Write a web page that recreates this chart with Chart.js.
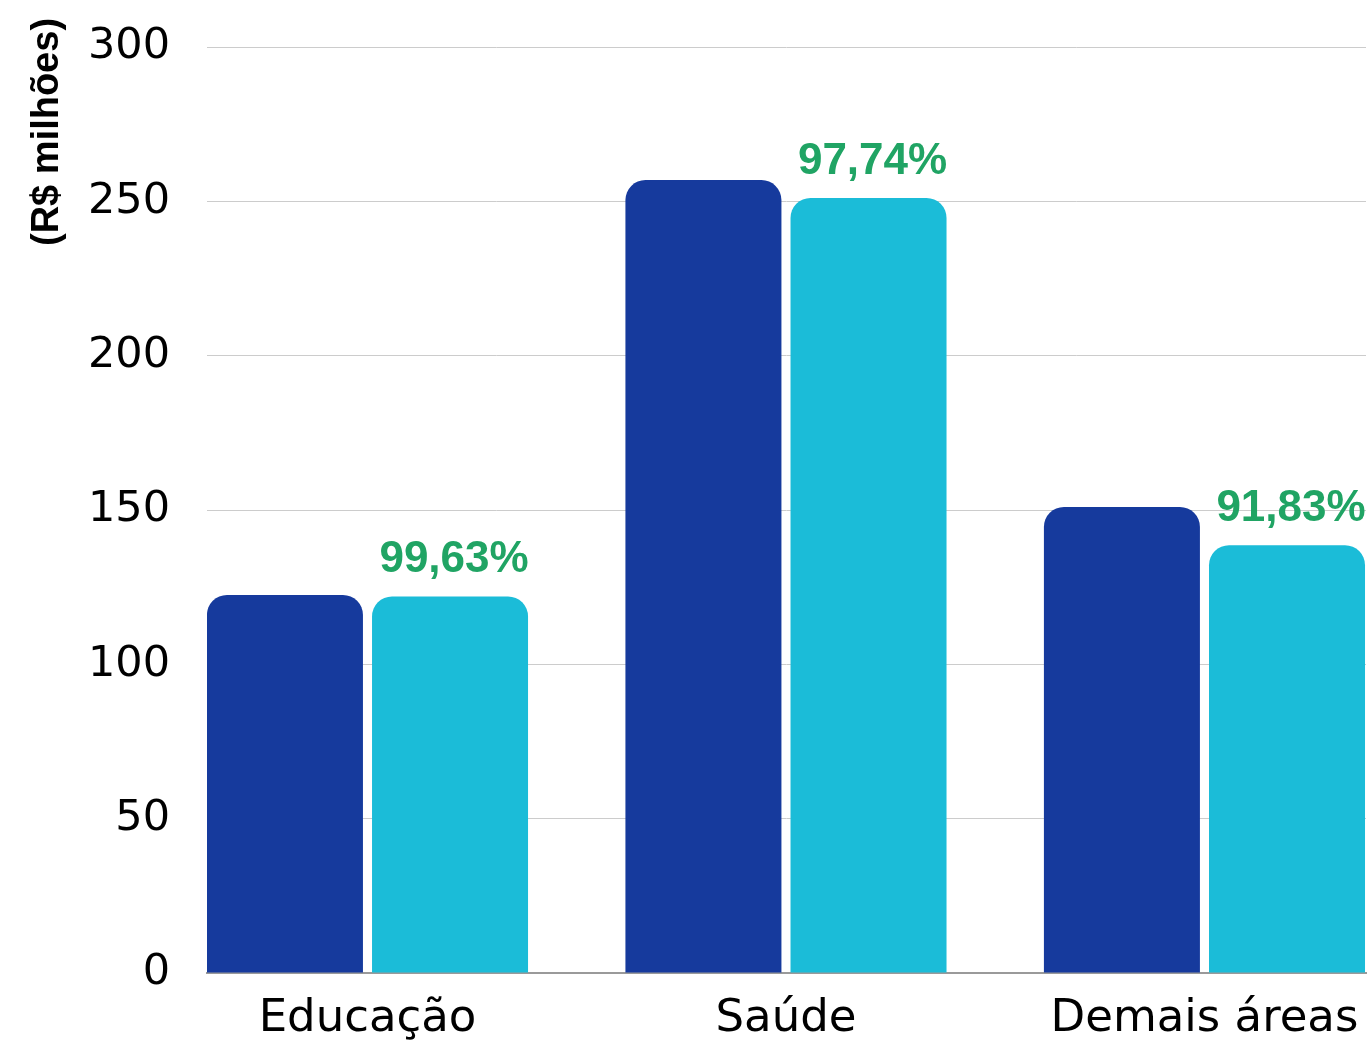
<!DOCTYPE html>
<html lang="pt-BR">
<head>
<meta charset="utf-8">
<title>Execução por área</title>
<script src="https://cdn.jsdelivr.net/npm/chart.js@4"></script>
<style>
  html, body { margin: 0; padding: 0; background: #ffffff; overflow: hidden; }
  #wrap { position: relative; width: 1368px; height: 1040px; }
  #y-title {
    position: absolute;
    left: 25px;
    top: 18px;
    writing-mode: vertical-rl;
    transform: rotate(180deg);
    font: bold 38px "Liberation Sans", Arial, sans-serif;
    line-height: 40px;
    color: #000;
    white-space: nowrap;
  }
</style>
</head>
<body>
<div id="wrap">
  <canvas id="chart"></canvas>
  <div id="y-title">(R$ milhões)</div>
</div>
<script>
const categories = ["Educação", "Saúde", "Demais áreas"];
const previsto = [122.5, 256.9, 151.0];
const executado = [122.0, 251.1, 138.6];
const percentLabels = ["99,63%", "97,74%", "91,83%"];
const yTicks = [0, 50, 100, 150, 200, 250, 300];

const DARK = "#163a9d";
const CYAN = "#1bbcd8";
const GREEN = "#20a464";

let chart = undefined;

function toPoints(values) {
  return values.map((v, i) => ({ x: i, y: v }));
}

// draws the green percentage above each cyan bar
const percentPlugin = {
  id: "percentLabels",
  afterDatasetsDraw(c) {
    const meta = c.getDatasetMeta(1);
    const ctx = c.ctx;
    ctx.save();
    ctx.font = "bold 44px 'Liberation Sans', Arial, sans-serif";
    ctx.fillStyle = GREEN;
    ctx.textAlign = "center";
    ctx.textBaseline = "alphabetic";
    meta.data.forEach((bar, i) => {
      ctx.fillText(percentLabels[i], bar.x + 4, bar.y - 24);
    });
    ctx.restore();
  },
};

function initializeChart() {
  const radius = { topLeft: 20, topRight: 20, bottomLeft: 0, bottomRight: 0 };
  chart = new Chart(document.getElementById("chart"), {
    type: "bar",
    data: {
      datasets: [
        {
          label: "Previsto",
          data: toPoints(previsto),
          backgroundColor: DARK,
          borderRadius: radius,
          borderSkipped: false,
        },
        {
          label: "Executado",
          data: toPoints(executado),
          backgroundColor: CYAN,
          borderRadius: radius,
          borderSkipped: false,
        },
      ],
    },
    options: {
      responsive: true,
      maintainAspectRatio: false,
      animation: false,
      categoryPercentage: 0.789,
      barPercentage: 0.945,
      layout: { padding: { top: 47, right: 2, left: 0, bottom: 0 } },
      plugins: {
        legend: { display: false },
        tooltip: { enabled: false },
      },
      scales: {
        x: {
          type: "linear",
          offset: false,
          min: -0.3835,
          max: 2.386,
          afterBuildTicks: (scale) => {
            scale.ticks = categories.map((_, i) => ({ value: i }));
          },
          afterFit: (scale) => {
            scale.height = 67;
            scale.paddingLeft = 0;
            scale.paddingRight = 0;
          },
          grid: { display: false, drawTicks: false },
          border: { display: true, color: "#9a9a9a", width: 2 },
          ticks: {
            padding: 19,
            color: "#000",
            font: { family: "'DejaVu Sans', sans-serif", size: 45 },
            callback: (value) => categories[value] ?? "",
          },
        },
        y: {
          min: 0,
          max: 300,
          afterBuildTicks: (scale) => {
            scale.ticks = yTicks.map((v) => ({ value: v }));
          },
          afterFit: (scale) => {
            scale.width = 207;
            scale.paddingTop = 0;
            scale.paddingBottom = 0;
          },
          grid: { color: "#cccccc", lineWidth: 1, drawTicks: false },
          border: { display: false },
          ticks: {
            padding: 37,
            color: "#000",
            font: { family: "'DejaVu Sans', sans-serif", size: 43 },
          },
        },
      },
    },
    plugins: [percentPlugin],
  });
}

initializeChart();
</script>
</body>
</html>
